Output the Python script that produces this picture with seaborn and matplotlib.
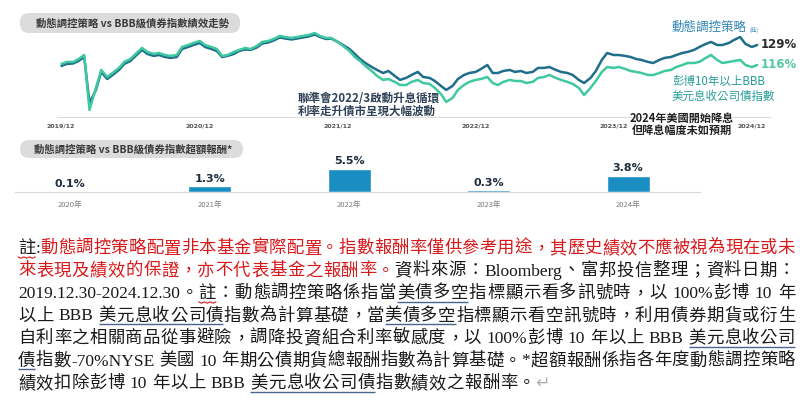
import numpy as np
import pandas as pd
import matplotlib
matplotlib.use("Agg")
import matplotlib.pyplot as plt
import seaborn as sns
from matplotlib.patches import FancyBboxPatch

# 資料：半月資料點 (2020/01 ~ 2025/01)，指數水準由圖上估讀
dates = pd.date_range("2020-01-01", "2025-01-15", freq="SMS")

strategy = [
    115.4, 116.7, 117.0, 118.6, 121.2, 91.3, 99.8, 111.5, 106.9, 109.5, 112.8, 116.7,
    118.6, 121.9, 125.8, 123.2, 121.9, 122.5, 121.2, 120.6, 121.2, 126.4, 127.7, 129.0,
    130.3, 127.7, 126.4, 125.1, 121.2, 121.9, 123.2, 125.1, 126.1, 125.8, 127.4, 130.0,
    130.6, 131.9, 133.9, 133.2, 132.6, 133.2, 133.9, 134.5, 135.8, 134.2, 132.9, 133.2,
    131.0, 129.0, 126.4, 123.2, 119.9, 117.3, 114.7, 112.8, 110.8, 112.1, 108.9, 106.3,
    107.6, 109.5, 111.5, 108.2, 107.6, 105.6, 102.4, 99.8, 102.4, 106.9, 109.5, 110.8,
    111.5, 113.4, 116.0, 110.8, 110.8, 112.1, 112.8, 111.5, 112.1, 110.8, 111.5, 114.1,
    114.1, 114.7, 112.8, 111.5, 110.8, 109.5, 106.3, 104.3, 107.6, 112.1, 119.3, 123.8,
    122.5, 122.5, 121.9, 121.2, 119.9, 119.3, 118.0, 117.3, 119.3, 120.6, 121.2, 122.5,
    123.8, 124.5, 125.8, 127.7, 129.7, 131.0, 129.0, 129.0, 130.3, 132.3, 134.2, 129.7,
    127.7, 129.0,
]

bbb_index = [
    116.7, 118.0, 118.0, 119.9, 122.5, 86.8, 101.1, 112.8, 108.2, 110.8, 114.1, 118.0,
    119.9, 123.2, 127.1, 124.5, 123.2, 123.8, 122.5, 121.9, 122.5, 127.7, 129.0, 130.3,
    131.6, 129.0, 127.7, 126.4, 121.9, 122.5, 124.5, 125.8, 127.1, 126.4, 128.4, 131.0,
    131.6, 132.9, 134.9, 134.2, 133.6, 134.2, 134.9, 135.5, 136.8, 134.9, 133.6, 133.6,
    131.0, 128.4, 125.1, 121.2, 118.6, 115.4, 112.1, 108.9, 106.3, 106.9, 105.0, 103.0,
    103.0, 105.0, 106.3, 104.3, 103.7, 101.1, 97.2, 92.0, 94.6, 99.8, 103.0, 105.0,
    106.3, 106.9, 108.2, 104.3, 103.0, 105.0, 106.3, 105.6, 105.6, 104.3, 105.0, 107.6,
    108.2, 109.5, 107.6, 106.3, 105.0, 103.7, 101.1, 96.5, 101.1, 105.6, 111.5, 114.7,
    114.1, 114.7, 113.4, 112.1, 111.5, 110.8, 109.5, 109.5, 110.8, 112.1, 112.8, 114.7,
    116.0, 117.3, 117.3, 118.0, 120.6, 122.5, 119.3, 117.3, 118.0, 118.6, 119.3, 116.0,
    114.7, 116.0,
]

series_names = ["動態調控策略", "彭博10年以上BBB美元息收公司債指數"]

year_ticks = ["2019-12-31", "2020-12-31", "2021-12-31", "2022-12-31", "2023-12-31", "2024-12-31"]
year_tick_labels = ["2019/12", "2020/12", "2021/12", "2022/12", "2023/12", "2024/12"]

excess_years = ["2020年", "2021年", "2022年", "2023年", "2024年"]
excess_return = [0.1, 1.3, 5.5, 0.3, 3.8]

# 註解文字 (k=黑, r=紅, u=底線, w=紅色波浪底線, g=灰)
body_lines = [
    [("註", "w"), (":", "k"),
     ("動態調控策略配置非本基金實際配置。指數報酬率僅供參考用途，其歷史績效不應被視為現在或未", "r")],
    [("來表現及績效的保證，亦不代表基金之報酬率。", "r"),
     ("資料來源：Bloomberg、富邦投信整理；資料日期：", "k")],
    [("2019.12.30-2024.12.30。", "k"), ("註", "w"), ("：動態調控策略係指當", "k"),
     ("美債多空", "u"), ("指標顯示看多訊號時，以 100%彭博 10 年", "k")],
    [("以上 BBB ", "k"), ("美元息收公司債", "u"), ("指數為計算基礎，當", "k"),
     ("美債多空", "u"), ("指標顯示看空訊號時，利用債券期貨或衍生", "k")],
    [("自利率之相關商品從事避險，調降投資組合利率敏感度，以 100%彭博 10 年以上 BBB ", "k"),
     ("美元息收公司", "u")],
    [("債", "u"),
     ("指數-70%NYSE 美國 10 年期公債期貨總報酬指數為計算基礎。*超額報酬係指各年度動態調控策略", "k")],
    [("績效扣除彭博 10 年以上 BBB ", "k"), ("美元息收公司債", "u"), ("指數績效之報酬率。", "k"),
     ("↵", "g")],
]

DARK = "#1f6e8c"
LIGHT = "#40c8a0"
BAR = "#1a8dc2"

sns.set_theme(style="white")
plt.rcParams["font.family"] = ["Noto Sans CJK TC", "DejaVu Sans"]

W, H = 800, 404
fig = plt.figure(figsize=(W / 100, H / 100), dpi=100)


def px_axes(x0, y0, x1, y1):
    return fig.add_axes([x0 / W, 1 - y1 / H, (x1 - x0) / W, (y1 - y0) / H])


# ---- 績效走勢折線圖 ----
ax1 = px_axes(57, 25, 770, 117)
df = pd.DataFrame({
    "date": list(dates) * 2,
    "value": strategy + bbb_index,
    "series": [series_names[0]] * len(dates) + [series_names[1]] * len(dates),
})
sns.lineplot(data=df, x="date", y="value", hue="series", hue_order=series_names,
             palette=[DARK, LIGHT], linewidth=1.8, legend=False, ax=ax1)
ax1.set_xlim(pd.Timestamp("2019-12-20"), pd.Timestamp("2025-02-18"))
ax1.set_ylim(82.2, 142.0)
ax1.set_xticks(pd.to_datetime(year_ticks))
ax1.set_xticklabels(year_tick_labels, fontsize=4.5, fontweight="bold", color="#555555",
                    family="DejaVu Sans")
ax1.tick_params(axis="x", length=0, pad=5)
ax1.set_yticks([])
ax1.set_xlabel("")
ax1.set_ylabel("")
for s in ["top", "left", "right"]:
    ax1.spines[s].set_visible(False)
ax1.spines["bottom"].set_color("#dcdcdc")
ax1.spines["bottom"].set_linewidth(0.8)
ax1.patch.set_alpha(0)

ax1.annotate(f"{strategy[-1]:.0f}%", xy=(dates[-1], strategy[-1]), xytext=(2.5, 0),
             textcoords="offset points", va="center", ha="left", fontsize=8.5,
             fontweight="bold", color="#2b2b2b", family="DejaVu Sans", annotation_clip=False)
ax1.annotate(f"{bbb_index[-1]:.0f}%", xy=(dates[-1], bbb_index[-1]), xytext=(2.5, 0),
             textcoords="offset points", va="center", ha="left", fontsize=8.5,
             fontweight="bold", color="#55c99e", family="DejaVu Sans", annotation_clip=False)

# ---- 超額報酬長條圖 ----
ax2 = px_axes(15, 155, 700, 191.7)
sns.barplot(x=excess_years, y=excess_return, color=BAR, width=0.31, saturation=1, ax=ax2)
ax2.set_xlim(-0.395, 4.515)
ax2.set_ylim(0, 8.95)
ax2.bar_label(ax2.containers[0], fmt="%.1f%%", padding=2, fontsize=8, fontweight="bold",
              color="#1f2d3d", family="DejaVu Sans")
ax2.set_yticks([])
ax2.set_xticks([0.5, 1.5, 2.5, 3.5], minor=True)
ax2.tick_params(axis="x", which="major", length=0, pad=7, labelsize=5.5, labelcolor="#808080")
ax2.tick_params(axis="x", which="minor", length=3, width=0.6, color="#cccccc", direction="out")
ax2.set_xlabel("")
ax2.set_ylabel("")
for s in ["top", "left", "right"]:
    ax2.spines[s].set_visible(False)
ax2.spines["bottom"].set_color("#d9d9d9")
ax2.spines["bottom"].set_linewidth(0.8)
ax2.patch.set_alpha(0)

# ---- 疊加層：標題、說明文字 ----
ax_o = fig.add_axes([0, 0, 1, 1])
ax_o.set_xlim(0, W)
ax_o.set_ylim(H, 0)
ax_o.axis("off")

for (x0, y0, w, h), title in [((20, 13, 220, 20), "動態調控策略 vs BBB級債券指數績效走勢"),
                              ((20, 140, 223, 18), "動態調控策略 vs BBB級債券指數超額報酬*")]:
    ax_o.add_patch(FancyBboxPatch((x0, y0), w, h, boxstyle="round,pad=0,rounding_size=9",
                                  fc="#dcdcdc", ec="none"))
    ax_o.text(x0 + w / 2 + 2, y0 + h / 2, title, ha="center", va="center", fontsize=7.5,
              fontweight="bold", color="#3a3a3a")

ax_o.text(298, 98, "聯準會2022/3啟動升息循環", ha="left", va="center", fontsize=8.3,
          fontweight="bold", color="#2f4156")
ax_o.text(298, 111, "利率走升債市呈現大幅波動", ha="left", va="center", fontsize=8.3,
          fontweight="bold", color="#2f4156")
ax_o.text(682, 118, "2024年美國開始降息", ha="center", va="center", fontsize=8,
          fontweight="bold", color="#222222")
ax_o.text(682, 130, "但降息幅度未如預期", ha="center", va="center", fontsize=8,
          fontweight="bold", color="#222222")
ax_o.text(672, 27, "動態調控策略", ha="left", va="center", fontsize=9, color="#2e86b5")
ax_o.text(749, 30, "(註)", ha="left", va="center", fontsize=4, color="#2e86b5")
ax_o.text(672, 81, "彭博10年以上BBB", ha="left", va="center", fontsize=8.3, color="#2a9d9a")
ax_o.text(672, 96, "美元息收公司債指數", ha="left", va="center", fontsize=8.3, color="#2a9d9a")

# 註解段落：逐字排版並左右對齊
BODY_FS = 12.5
body_family = ["Liberation Serif", "Noto Sans CJK TC", "DejaVu Sans"]
style_color = {"k": "#1a1a1a", "r": "#d7191c", "u": "#1a1a1a", "w": "#1a1a1a", "g": "#b0b0b0"}
baselines = [253, 275.5, 298, 320.5, 343, 365.5, 388]
line_left, line_right = 18, 795
space_w = 0.25 * BODY_FS * 100 / 72


def tokenize(s):
    toks, word = [], ""
    for ch in s:
        if ord(ch) < 128 and ch != " ":
            word += ch
        else:
            if word:
                toks.append(word)
                word = ""
            toks.append(ch)
    if word:
        toks.append(word)
    return toks


renderer = fig.canvas.get_renderer()
laid = []
for runs, y in zip(body_lines, baselines):
    items = []
    for ri, (s, st) in enumerate(runs):
        for tok in tokenize(s):
            if tok == " ":
                items.append([None, space_w, st, ri])
            else:
                t = ax_o.text(0, y, tok, fontsize=BODY_FS, family=body_family,
                              color=style_color[st], ha="left", va="baseline")
                items.append([t, t.get_window_extent(renderer).width, st, ri])
    laid.append((items, y))

gaps = []
for items, y in laid[:-1]:
    natural = sum(it[1] for it in items)
    gaps.append((line_right - line_left - natural) / (len(items) - 1))
gaps.append(np.mean(gaps))

for (items, y), gap in zip(laid, gaps):
    x = line_left
    spans = {}
    for t, w, st, ri in items:
        if t is not None:
            t.set_x(x)
        a, b = spans.get(ri, (x, x + w))
        spans[ri] = (min(a, x), x + w)
        x += w + gap
    for ri, (a, b) in spans.items():
        st = items[[it[3] for it in items].index(ri)][2]
        if st == "u":
            ax_o.plot([a, b], [y + 3.5, y + 3.5], color="#4a6490", lw=1.0,
                      solid_capstyle="butt")
        elif st == "w":
            xs = np.linspace(a, b, 7)
            ys = y + 4.5 + np.array([0, 1.3, 0, 1.3, 0, 1.3, 0]) - 0.6
            ax_o.plot(xs, ys, color="#d7191c", lw=0.8)

fig.savefig("out.png", dpi=100)
